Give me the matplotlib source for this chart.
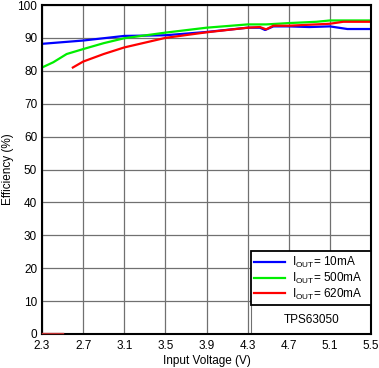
import numpy as np
import matplotlib.pyplot as plt
from matplotlib.patches import Rectangle

plt.rcParams['font.family'] = ['Liberation Sans', 'DejaVu Sans']
plt.rcParams['mathtext.fontset'] = 'custom'
plt.rcParams['mathtext.rm'] = 'Liberation Sans'

# efficiency curves
v_10 = [2.3, 2.7, 3.1, 3.5, 3.9, 4.3, 4.42, 4.47, 4.55, 4.7, 4.9, 5.1, 5.27, 5.5]
eff_10 = [88.2, 89.2, 90.6, 90.8, 91.8, 93.1, 93.1, 92.4, 93.5, 93.5, 93.3, 93.5, 92.7, 92.7]

v_500 = [2.3, 2.41, 2.54, 2.7, 2.9, 3.1, 3.5, 3.9, 4.3, 4.48, 4.7, 4.97, 5.1, 5.5]
eff_500 = [81.0, 82.6, 85.1, 86.6, 88.4, 89.9, 91.6, 93.1, 94.1, 94.1, 94.5, 94.9, 95.3, 95.3]

v_620_off = [2.3, 2.5]
eff_620_off = [0.4, 0.4]
v_620 = [2.6, 2.7, 2.9, 3.1, 3.5, 3.9, 4.3, 4.42, 4.48, 4.55, 4.7, 5.1, 5.23, 5.5]
eff_620 = [81.0, 82.8, 85.1, 87.1, 90.0, 91.7, 93.1, 93.3, 92.6, 93.7, 93.7, 94.3, 94.9, 94.9]

xticks = [2.3, 2.7, 3.1, 3.5, 3.9, 4.3, 4.7, 5.1, 5.5]
yticks = [0, 10, 20, 30, 40, 50, 60, 70, 80, 90, 100]

fig = plt.figure(figsize=(3.79, 3.68), dpi=100)
ax = fig.add_axes([42/379, 34/368, 329/379, 329/368])

l1, = ax.plot(v_10, eff_10, color='#0000ff', lw=1.6)
l2, = ax.plot(v_500, eff_500, color='#00ee00', lw=1.6)
l3, = ax.plot(v_620, eff_620, color='#ff0000', lw=1.6)
ax.plot(v_620_off, eff_620_off, color='#c03030', lw=1.0, clip_on=False, zorder=2.6)

ax.set_xlim(2.3, 5.5)
ax.set_ylim(0, 100)
ax.set_xticks(xticks)
ax.set_xticklabels([str(t) for t in xticks])
ax.set_yticks(yticks)
ax.tick_params(length=0, labelsize=8.5)
ax.tick_params(axis='x', pad=4.5)
ax.tick_params(axis='y', pad=3.5)
ax.grid(True, color='#707070', lw=0.9)
ax.set_axisbelow(True)
for s in ax.spines.values():
    s.set_linewidth(1.5)
    s.set_color('black')

ax.set_xlabel("Input Voltage (V)", fontsize=8.5, labelpad=2)
ax.set_ylabel("Efficiency (%)", fontsize=8.5, labelpad=2)

ax.add_patch(Rectangle((0.635, 0), 0.365, 0.245, transform=ax.transAxes,
                       facecolor='white', edgecolor='#707070', lw=0.8, zorder=2))
ax.text(0.82, 0.044, "TPS63050", transform=ax.transAxes, ha='center', va='center',
        fontsize=8.5, zorder=3)

leg = ax.legend([l1, l2, l3],
                [r"I$_{\rm OUT}$= 10mA", r"I$_{\rm OUT}$= 500mA", r"I$_{\rm OUT}$= 620mA"],
                loc='lower left', bbox_to_anchor=(0.635, 0.088, 0.365, 0.157),
                mode='expand', fontsize=8.5, fancybox=False, framealpha=1,
                edgecolor='black', borderpad=0.3, labelspacing=0.05,
                handlelength=2.6, handletextpad=0.6, borderaxespad=0)
leg.get_frame().set_linewidth(1.3)
leg.set_zorder(4)

plt.savefig("out.png", dpi=100)
